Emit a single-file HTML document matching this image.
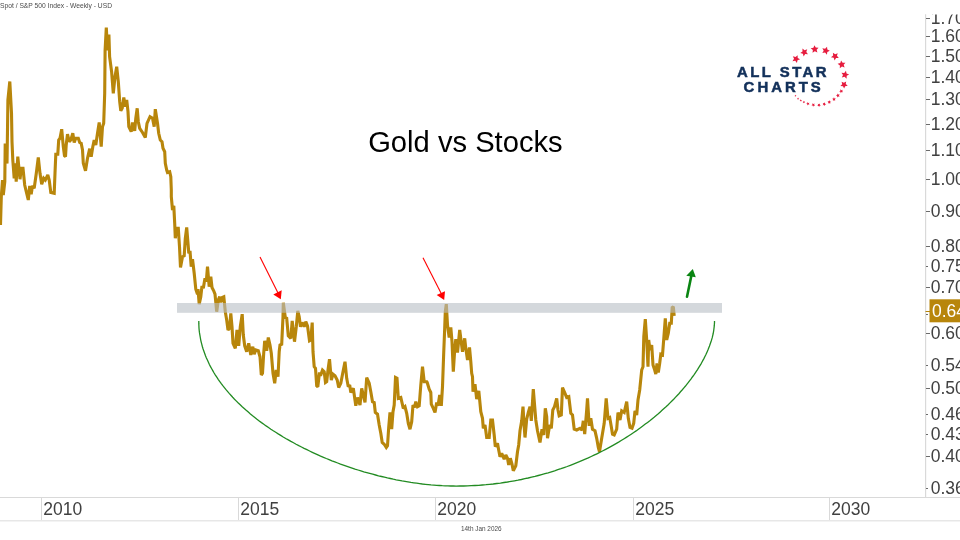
<!DOCTYPE html>
<html lang="en"><head><meta charset="utf-8"><title>Gold vs Stocks</title>
<style>
html,body{margin:0;padding:0;background:#fff;}
body{width:960px;height:540px;overflow:hidden;position:relative;font-family:"Liberation Sans",sans-serif;}
svg{position:absolute;left:0;top:0;display:block;}
.ax text{font-family:"Liberation Sans",sans-serif;font-size:17.5px;fill:#404040;}
.sm{font-family:"Liberation Sans",sans-serif;font-size:7.6px;fill:#4a4a4a;}
.title{font-family:"Liberation Sans",sans-serif;font-size:29.5px;fill:#000;}
.logo{font-family:"Liberation Sans",sans-serif;font-weight:bold;font-size:14.9px;fill:#12305a;stroke:#12305a;stroke-width:0.5px;}
</style></head>
<body>
<svg width="960" height="540" viewBox="0 0 960 540">
<rect width="960" height="540" fill="#fff"/>
<!-- axes -->
<g stroke="#d9d9d9" stroke-width="1" fill="none">
<path d="M925.6,14.2V497" stroke-width="1.2"/>
<path d="M0,497.5H960"/>
<path d="M41.5,497.5V520"/><path d="M238.5,497.5V520"/><path d="M435.5,497.5V520"/><path d="M633.5,497.5V520"/><path d="M829.5,497.5V520"/>
</g>
<path d="M0,520.8H960" stroke="#e7e7e7" stroke-width="1.6" fill="none"/>
<g stroke="#6b6b6b" stroke-width="1" fill="none"><path d="M926,18.5H930"/><path d="M926,36.5H930"/><path d="M926,56.5H930"/><path d="M926,77.5H930"/><path d="M926,99.5H930"/><path d="M926,124.5H930"/><path d="M926,150.5H930"/><path d="M926,179.5H930"/><path d="M926,211.5H930"/><path d="M926,246.5H930"/><path d="M926,266.5H928"/><path d="M926,287.5H930"/><path d="M926,333.5H930"/><path d="M926,365.5H928"/><path d="M926,388.5H930"/><path d="M926,414.5H928"/><path d="M926,434.5H928"/><path d="M926,456.5H930"/><path d="M926,488.5H928"/><path d="M926,314.5H928"/></g>
<clipPath id="cp"><rect x="900" y="14.5" width="60" height="483"/></clipPath>
<g class="ax" clip-path="url(#cp)"><text x="930.7" y="23.9">1.70</text><text x="930.7" y="41.9">1.60</text><text x="930.7" y="61.9">1.50</text><text x="930.7" y="82.9">1.40</text><text x="930.7" y="104.9">1.30</text><text x="930.7" y="129.9">1.20</text><text x="930.7" y="155.9">1.10</text><text x="930.7" y="184.9">1.00</text><text x="930.7" y="216.9">0.90</text><text x="930.7" y="251.9">0.80</text><text x="930.7" y="271.9">0.75</text><text x="930.7" y="292.9">0.70</text><text x="930.7" y="338.9">0.60</text><text x="930.7" y="370.9">0.54</text><text x="930.7" y="393.9">0.50</text><text x="930.7" y="419.9">0.46</text><text x="930.7" y="439.9">0.43</text><text x="930.7" y="461.9">0.40</text><text x="930.7" y="493.9">0.36</text></g>
<g class="ax"><text x="43.3" y="515.1">2010</text><text x="240.3" y="515.1">2015</text><text x="437.3" y="515.1">2020</text><text x="635.3" y="515.1">2025</text><text x="831.3" y="515.1">2030</text></g>
<!-- price line -->
<path d="M0.5,225.0 L1.3,196.7 L2.5,180.0 L3.3,195.0 L4.8,181.7 L5.2,143.5 L7.0,163.5 L7.5,130.0 L7.9,100.0 L9.8,81.5 L11.5,113.0 L12.0,141.7 L12.8,160.0 L14.2,178.3 L15.5,163.3 L16.2,181.7 L17.8,156.7 L20.0,179.2 L21.3,168.3 L23.0,168.3 L24.7,185.0 L26.7,193.3 L28.3,200.0 L29.7,185.8 L31.2,194.2 L32.5,185.8 L34.2,188.3 L36.3,173.3 L38.3,157.5 L40.0,173.3 L41.7,184.2 L43.7,178.3 L45.3,180.0 L47.8,175.0 L49.2,180.0 L50.8,192.5 L54.2,193.3 L55.0,173.3 L55.8,154.2 L57.8,154.2 L58.7,140.0 L60.0,138.3 L61.7,129.2 L63.3,146.7 L64.5,155.8 L65.5,156.7 L66.2,145.0 L67.5,134.2 L69.2,141.7 L70.8,140.0 L72.8,133.3 L74.2,142.5 L75.8,138.3 L78.3,138.3 L79.7,142.5 L81.2,143.3 L82.5,150.0 L83.3,163.3 L85.5,170.8 L87.5,158.3 L89.7,148.7 L91.2,156.7 L92.8,146.7 L94.2,140.0 L95.8,145.0 L97.5,133.3 L99.2,122.5 L101.2,146.7 L102.5,126.7 L103.7,123.3 L104.7,93.3 L105.1,50.3 L106.3,27.6 L107.5,50.3 L108.9,34.5 L109.6,56.6 L111.6,71.7 L113.3,93.3 L115.0,76.7 L116.7,66.7 L118.3,81.7 L119.7,101.7 L120.8,110.8 L122.2,108.3 L123.8,97.5 L125.3,106.7 L126.7,100.0 L128.0,111.7 L128.8,126.7 L131.2,131.7 L132.5,122.5 L134.7,130.8 L135.8,118.3 L137.2,108.3 L138.3,121.7 L139.7,128.3 L142.5,132.5 L145.3,137.5 L147.0,123.3 L150.0,116.7 L152.5,118.3 L154.2,126.7 L155.3,109.2 L157.5,123.3 L158.7,133.3 L160.3,140.0 L162.0,141.7 L163.0,148.3 L164.7,151.7 L165.3,163.3 L166.7,170.0 L167.5,172.5 L169.7,171.7 L170.8,176.7 L171.3,190.0 L171.3,196.7 L172.5,210.0 L173.8,205.8 L174.7,223.3 L175.3,238.3 L176.7,228.3 L178.3,228.3 L179.5,246.7 L180.5,267.5 L182.5,256.7 L184.2,255.8 L185.3,238.3 L186.7,227.5 L188.0,243.3 L188.8,253.3 L190.0,250.8 L191.2,266.7 L192.5,259.2 L194.2,273.3 L195.8,289.2 L197.5,294.2 L198.0,289.2 L199.2,304.2 L200.8,296.7 L202.0,285.8 L203.3,288.3 L205.0,278.3 L206.3,281.7 L207.5,266.7 L209.2,286.7 L210.8,276.7 L212.0,287.5 L213.7,290.8 L215.0,294.2 L216.7,311.7 L218.3,300.0 L219.7,296.7 L220.8,302.5 L222.0,297.5 L223.8,296.7 L225.3,311.7 L226.7,320.0 L228.0,330.0 L229.5,328.3 L230.8,313.3 L232.0,326.7 L233.0,343.3 L235.3,348.3 L237.0,330.0 L238.7,345.8 L240.3,326.7 L242.2,314.2 L243.3,335.0 L244.7,345.8 L246.7,351.7 L248.7,343.3 L250.8,355.0 L252.8,346.7 L254.2,354.2 L255.8,350.0 L258.3,350.8 L260.0,356.7 L261.3,375.0 L262.5,373.3 L263.7,353.3 L264.7,340.8 L266.7,350.8 L268.3,337.5 L270.0,345.0 L271.3,353.3 L273.0,373.3 L274.7,383.3 L276.2,370.0 L278.0,376.7 L279.2,351.7 L280.0,345.0 L281.7,344.2 L283.0,316.7 L283.3,302.8 L285.3,317.5 L286.7,318.3 L288.3,335.8 L290.8,338.3 L292.2,320.8 L294.5,341.7 L296.3,326.7 L297.8,310.8 L299.2,316.7 L300.5,326.7 L302.2,322.5 L304.2,326.7 L305.8,321.7 L307.5,325.8 L309.5,340.8 L310.8,340.0 L312.2,322.5 L313.0,351.7 L314.2,366.7 L315.5,368.3 L316.7,385.8 L317.8,386.7 L319.5,372.5 L320.5,375.8 L322.5,370.0 L324.2,371.7 L325.5,382.5 L326.7,381.7 L328.0,370.0 L329.5,359.2 L331.3,380.0 L333.0,374.2 L335.0,375.8 L337.2,380.0 L338.7,387.5 L340.8,383.3 L343.0,371.7 L345.0,361.7 L346.7,378.3 L348.3,386.7 L349.7,385.0 L350.8,392.5 L353.3,388.3 L355.8,405.8 L357.5,397.5 L360.0,405.0 L361.7,388.3 L365.0,402.5 L366.7,377.5 L369.2,383.3 L370.8,391.7 L372.5,401.7 L374.2,402.5 L375.3,412.5 L377.5,414.2 L379.2,425.0 L380.8,433.3 L382.2,442.5 L384.2,444.2 L386.3,447.5 L387.5,445.8 L388.7,427.5 L390.0,412.5 L391.7,429.2 L393.0,411.7 L394.2,405.0 L395.5,377.5 L397.0,378.3 L398.3,398.3 L400.8,397.5 L403.3,408.3 L405.0,406.7 L406.7,413.3 L408.3,423.3 L410.0,429.2 L411.7,421.7 L413.0,405.0 L414.5,407.5 L415.8,401.7 L417.5,406.7 L419.2,405.8 L420.8,385.0 L422.5,366.7 L424.2,381.7 L426.7,381.7 L427.2,382.5 L429.2,389.2 L430.8,392.5 L431.3,404.2 L433.3,408.3 L435.0,412.5 L436.7,402.5 L438.0,405.8 L439.7,395.0 L441.3,405.8 L442.5,386.7 L443.7,353.3 L444.7,328.3 L445.3,311.7 L446.3,304.2 L447.5,325.0 L449.2,337.5 L450.8,327.5 L452.0,341.7 L453.3,371.7 L454.7,350.0 L455.8,339.2 L457.5,352.5 L459.7,330.0 L462.5,351.7 L464.7,338.3 L465.8,348.3 L467.5,360.0 L469.5,347.5 L470.8,361.7 L471.7,373.3 L472.5,376.7 L473.0,391.7 L475.0,384.2 L476.7,399.2 L478.8,390.8 L480.8,411.7 L482.5,418.3 L483.3,428.3 L485.0,425.0 L486.7,437.5 L489.2,437.5 L490.8,420.0 L492.5,420.0 L494.2,435.0 L495.3,446.7 L497.5,443.3 L498.7,450.0 L500.0,456.7 L501.7,453.3 L504.2,459.2 L505.8,455.0 L507.5,458.3 L508.7,465.0 L510.3,458.3 L512.0,464.2 L513.3,470.8 L515.8,465.8 L517.5,451.7 L518.7,445.0 L520.0,430.8 L521.7,420.8 L523.0,406.7 L524.2,426.7 L525.0,437.5 L526.7,419.2 L528.3,412.5 L530.0,406.7 L531.3,420.8 L533.3,389.2 L534.7,406.7 L535.8,420.0 L537.5,430.8 L540.0,442.5 L542.0,429.2 L543.7,435.0 L545.3,408.3 L546.7,416.7 L547.5,438.3 L549.7,425.0 L551.3,428.3 L552.8,410.0 L554.5,406.7 L556.7,398.3 L558.0,410.0 L559.2,415.8 L561.3,415.0 L562.5,387.5 L565.0,393.3 L566.7,397.5 L568.8,396.7 L570.8,413.3 L572.5,415.0 L574.2,429.2 L576.7,430.0 L580.0,428.3 L582.0,430.0 L583.3,420.8 L584.7,434.2 L586.7,410.0 L587.5,398.3 L589.2,425.8 L590.8,418.3 L592.5,429.2 L595.0,430.8 L596.7,438.3 L598.3,447.5 L599.5,451.7 L601.7,438.3 L604.2,423.3 L606.2,398.3 L608.0,418.3 L609.7,417.5 L611.3,426.7 L612.5,434.2 L614.2,435.0 L616.7,429.2 L618.0,412.5 L620.0,420.0 L621.7,410.8 L624.2,412.5 L626.7,401.7 L628.3,418.3 L630.0,427.5 L632.0,428.3 L633.7,423.3 L635.0,410.8 L636.7,415.0 L638.0,400.0 L639.7,390.0 L641.7,370.0 L643.0,366.7 L643.8,336.7 L645.3,319.2 L646.7,340.0 L648.0,366.7 L648.7,340.0 L650.0,350.0 L651.7,345.0 L653.0,365.0 L654.7,370.0 L655.8,374.2 L657.0,363.3 L658.3,372.5 L659.7,363.3 L660.8,354.2 L662.5,355.0 L663.8,338.3 L665.3,318.3 L666.7,340.0 L668.3,333.3 L669.7,323.3 L671.3,323.3 L672.2,307.5 L673.3,306.7 L674.2,315.8" fill="none" stroke="#b8860b" stroke-width="3.1" stroke-linejoin="miter" stroke-miterlimit="2" stroke-linecap="butt"/>
<!-- resistance band -->
<rect x="177" y="303" width="545" height="9.8" fill="#b7bec5" fill-opacity="0.6"/>
<!-- rounded bottom arc -->
<path d="M198.8,321.0 L198.8,323.4 L198.9,325.8 L199.0,328.1 L199.2,330.5 L199.5,332.9 L199.9,335.2 L200.3,337.5 L200.7,339.8 L201.2,342.1 L201.8,344.4 L202.4,346.7 L203.1,349.0 L203.9,351.2 L204.7,353.5 L205.5,355.7 L206.4,357.9 L207.4,360.1 L208.4,362.3 L209.4,364.5 L210.5,366.6 L211.7,368.8 L212.9,370.9 L214.1,373.0 L215.4,375.1 L216.8,377.2 L218.2,379.3 L219.6,381.3 L221.1,383.4 L222.6,385.4 L224.2,387.4 L225.8,389.4 L227.5,391.4 L229.2,393.4 L230.9,395.3 L232.7,397.3 L234.5,399.2 L236.4,401.1 L238.3,403.0 L240.2,404.8 L242.2,406.7 L244.2,408.5 L246.2,410.3 L248.3,412.1 L250.4,413.9 L252.6,415.7 L254.8,417.4 L257.0,419.2 L259.2,420.9 L261.5,422.6 L263.8,424.2 L266.1,425.9 L268.5,427.5 L270.9,429.2 L273.3,430.8 L275.7,432.3 L278.2,433.9 L280.7,435.4 L283.2,437.0 L285.7,438.5 L288.3,439.9 L290.9,441.4 L293.5,442.8 L296.1,444.3 L298.8,445.7 L301.5,447.0 L304.1,448.4 L306.9,449.7 L309.6,451.0 L312.3,452.3 L315.1,453.6 L317.9,454.9 L320.6,456.1 L323.5,457.3 L326.3,458.5 L329.1,459.6 L331.9,460.8 L334.8,461.9 L337.7,463.0 L340.5,464.1 L343.4,465.1 L346.3,466.1 L349.2,467.1 L352.1,468.1 L355.0,469.1 L358.0,470.0 L360.9,470.9 L363.8,471.8 L366.8,472.6 L369.7,473.4 L372.7,474.2 L375.6,475.0 L378.5,475.8 L381.5,476.5 L384.4,477.2 L387.4,477.9 L390.3,478.5 L393.3,479.2 L396.2,479.8 L399.2,480.3 L402.1,480.9 L405.0,481.4 L407.9,481.9 L410.9,482.4 L413.8,482.8 L416.7,483.2 L419.6,483.6 L422.4,484.0 L425.3,484.3 L428.2,484.6 L431.0,484.9 L433.9,485.1 L436.7,485.3 L439.5,485.5 L442.3,485.7 L445.1,485.8 L447.9,485.9 L450.7,486.0 L453.4,486.0 L456.1,486.1 L459.9,486.0 L463.7,486.0 L467.5,485.9 L471.2,485.7 L474.9,485.5 L478.6,485.3 L482.3,485.0 L486.0,484.7 L489.6,484.3 L493.2,484.0 L496.8,483.5 L500.4,483.1 L504.0,482.5 L507.5,482.0 L511.0,481.4 L514.5,480.8 L518.0,480.2 L521.4,479.5 L524.8,478.7 L528.2,478.0 L531.6,477.2 L535.0,476.4 L538.3,475.5 L541.6,474.6 L544.9,473.7 L548.2,472.8 L551.4,471.8 L554.6,470.8 L557.8,469.7 L561.0,468.7 L564.1,467.6 L567.2,466.5 L570.3,465.3 L573.4,464.1 L576.4,462.9 L579.4,461.7 L582.4,460.4 L585.3,459.2 L588.3,457.9 L591.2,456.5 L594.0,455.2 L596.9,453.8 L599.7,452.4 L602.5,451.0 L605.2,449.6 L608.0,448.1 L610.7,446.6 L613.4,445.1 L616.0,443.6 L618.6,442.1 L621.2,440.5 L623.7,439.0 L626.3,437.4 L628.8,435.8 L631.2,434.2 L633.7,432.5 L636.1,430.9 L638.4,429.2 L640.8,427.5 L643.1,425.8 L645.3,424.1 L647.6,422.4 L649.8,420.7 L652.0,418.9 L654.1,417.2 L656.2,415.4 L658.3,413.7 L660.3,411.9 L662.3,410.1 L664.3,408.3 L666.3,406.5 L668.2,404.7 L670.0,402.9 L671.9,401.0 L673.7,399.2 L675.4,397.4 L677.2,395.5 L678.9,393.7 L680.5,391.8 L682.1,390.0 L683.7,388.1 L685.3,386.3 L686.8,384.4 L688.2,382.6 L689.7,380.7 L691.1,378.9 L692.4,377.0 L693.8,375.1 L695.0,373.3 L696.3,371.4 L697.5,369.6 L698.7,367.7 L699.8,365.9 L700.9,364.1 L701.9,362.2 L702.9,360.4 L703.9,358.6 L704.8,356.8 L705.7,355.0 L706.5,353.2 L707.3,351.4 L708.1,349.6 L708.8,347.8 L709.5,346.0 L710.1,344.3 L710.7,342.5 L711.3,340.8 L711.8,339.1 L712.3,337.4 L712.7,335.7 L713.1,334.0 L713.4,332.3 L713.7,330.6 L713.9,329.0 L714.1,327.4 L714.3,325.7 L714.4,324.1 L714.5,322.6 L714.5,321.0" fill="none" stroke="#228b22" stroke-width="1.3"/>
<!-- arrows -->
<g stroke="#ff0000" stroke-width="1.1" fill="#ff0000">
<path d="M260,257L279,295" fill="none"/><polygon points="273.3,294.5 281.7,290.3 280.8,299.2" stroke="none"/>
<path d="M423,257.7L442.5,296" fill="none"/><polygon points="436.7,295 445,291.2 444.2,300" stroke="none"/>
</g>
<path d="M687,296.7L691.3,276" stroke="#0a8512" stroke-width="2.6" stroke-linecap="round" fill="none"/>
<polygon points="686.3,275.7 695.8,277.2 692.8,269" fill="#0a8512"/>
<!-- last value flag -->
<path d="M925.5,311.5H930" stroke="#b8860b" stroke-width="1"/>
<rect x="929.5" y="299.3" width="31" height="23" fill="#b8860b"/>
<text x="932" y="317.3" style="font-family:'Liberation Sans',sans-serif;font-size:17.5px;fill:#fff">0.64</text>
<!-- texts -->
<text class="sm" x="0" y="8.2" textLength="112" lengthAdjust="spacingAndGlyphs">Spot / S&amp;P 500 Index - Weekly - USD</text>
<text class="sm" x="461" y="531.4" textLength="40.6" lengthAdjust="spacingAndGlyphs">14th Jan 2026</text>
<text class="title" x="368.2" y="152" textLength="194.5" lengthAdjust="spacingAndGlyphs">Gold vs Stocks</text>
<!-- logo -->
<text class="logo" x="737" y="76.7" textLength="89.6" lengthAdjust="spacing">ALL STAR</text>
<text class="logo" x="743.6" y="91.9" textLength="77.2" lengthAdjust="spacing">CHARTS</text>
<g fill="#e61d3f"><polygon points="792.86,56.28 795.55,57.06 797.61,55.18 797.71,57.97 800.14,59.35 797.51,60.30 796.94,63.04 795.23,60.84 792.45,61.15 794.02,58.83"/><polygon points="802.43,48.60 804.62,50.33 807.24,49.37 806.27,51.99 807.99,54.19 805.20,54.08 803.64,56.40 802.89,53.70 800.20,52.94 802.53,51.39"/><polygon points="814.39,45.16 815.75,47.60 818.54,47.72 816.64,49.77 817.39,52.46 814.85,51.29 812.52,52.83 812.86,50.06 810.67,48.32 813.41,47.78"/><polygon points="827.03,46.77 827.33,49.55 829.85,50.75 827.30,51.89 826.93,54.66 825.06,52.59 822.31,53.10 823.71,50.68 822.37,48.22 825.11,48.80"/><polygon points="837.74,53.18 836.94,55.86 838.81,57.94 836.02,58.01 834.62,60.43 833.68,57.80 830.95,57.21 833.17,55.51 832.88,52.73 835.18,54.32"/><polygon points="845.41,62.64 843.67,64.82 844.62,67.45 842.00,66.47 839.79,68.19 839.92,65.39 837.61,63.83 840.30,63.08 841.08,60.40 842.61,62.73"/><polygon points="849.14,74.48 846.70,75.84 846.59,78.64 844.53,76.74 841.84,77.49 843.01,74.95 841.46,72.63 844.24,72.96 845.97,70.77 846.52,73.51"/><polygon points="847.75,85.76 845.16,86.17 844.15,88.60 842.96,86.26 840.34,86.05 842.20,84.19 841.59,81.63 843.93,82.83 846.17,81.46 845.76,84.05"/><polygon points="843.02,92.26 841.61,92.12 840.76,93.25 840.45,91.87 839.11,91.41 840.33,90.69 840.35,89.28 841.41,90.21 842.77,89.80 842.20,91.10"/><polygon points="839.54,96.85 838.22,96.46 837.20,97.39 837.16,96.01 835.96,95.32 837.26,94.85 837.54,93.50 838.39,94.59 839.76,94.45 838.98,95.59"/><polygon points="835.22,100.78 834.03,100.16 832.87,100.85 833.10,99.52 832.08,98.64 833.41,98.44 833.94,97.20 834.54,98.41 835.88,98.52 834.92,99.47"/><polygon points="830.19,103.89 829.14,103.05 827.87,103.50 828.35,102.24 827.53,101.18 828.87,101.24 829.63,100.13 829.99,101.43 831.28,101.81 830.15,102.54"/><polygon points="824.82,106.08 823.97,105.08 822.67,105.27 823.36,104.16 822.78,102.98 824.05,103.30 824.99,102.37 825.08,103.68 826.25,104.29 825.03,104.78"/><polygon points="819.15,106.99 818.52,105.88 817.24,105.83 818.11,104.89 817.77,103.65 818.93,104.19 819.99,103.48 819.84,104.75 820.85,105.54 819.59,105.79"/><polygon points="813.06,106.79 812.68,105.57 811.43,105.26 812.47,104.51 812.38,103.24 813.41,104.00 814.60,103.51 814.20,104.73 815.02,105.71 813.74,105.70"/><polygon points="807.44,105.41 807.30,104.20 806.20,103.69 807.30,103.19 807.45,101.99 808.27,102.88 809.46,102.65 808.86,103.70 809.45,104.76 808.26,104.52"/><polygon points="803.31,103.26 803.34,102.38 802.62,101.89 803.46,101.66 803.70,100.82 804.19,101.55 805.06,101.51 804.52,102.20 804.82,103.02 804.00,102.72"/><polygon points="800.12,101.49 800.26,100.69 799.65,100.16 800.45,100.04 800.76,99.30 801.12,100.02 801.93,100.09 801.35,100.66 801.53,101.45 800.82,101.08"/><polygon points="797.28,99.53 797.49,98.82 796.99,98.27 797.73,98.25 798.09,97.60 798.35,98.30 799.07,98.45 798.49,98.91 798.57,99.64 797.95,99.23"/><polygon points="794.75,96.46 795.02,95.85 794.64,95.29 795.31,95.36 795.72,94.82 795.86,95.48 796.50,95.71 795.91,96.04 795.90,96.72 795.40,96.27"/></g>
</svg>
</body></html>
